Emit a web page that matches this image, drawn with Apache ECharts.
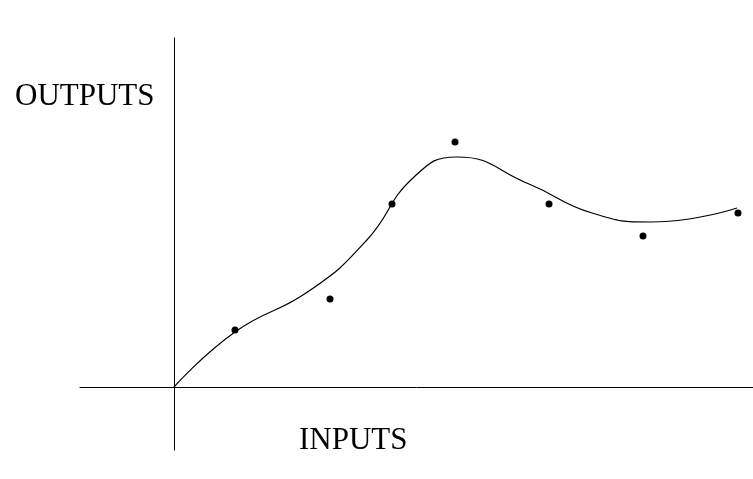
<!DOCTYPE html>
<html>
<head>
<meta charset="utf-8">
<script src="https://cdn.jsdelivr.net/npm/echarts@6/dist/echarts.min.js"></script>
<style>
  html, body { margin: 0; padding: 0; background: #fff; }
  #chart { width: 753px; height: 479px; }
</style>
</head>
<body>
<div id="chart"></div>
<script>
// measured points (x = input, y = output)
const pointX = [61, 156, 218, 281, 375, 469, 564];
const pointY = [57, 88, 183, 245, 183, 151, 174];

// fitted curve
const curveX = [0, 61, 135, 192, 240, 283, 355, 418, 478, 563];
const curveY = [0, 55, 96, 146, 210, 230, 203, 174, 165, 179];

const xLabel = 'INPUTS';
const yLabel = 'OUTPUTS';

const chart = echarts.init(document.getElementById('chart'));

const options = {
  animation: false,
  grid: { left: 80, right: 0, top: 38, bottom: 29 },
  xAxis: {
    type: 'value',
    min: -94,
    max: 579,
    axisLine: { onZero: true, lineStyle: { color: '#000', width: 1 } },
    axisTick: { show: false },
    axisLabel: { show: false },
    splitLine: { show: false },
  },
  yAxis: {
    type: 'value',
    min: -63,
    max: 349,
    axisLine: { onZero: true, lineStyle: { color: '#000', width: 1 } },
    axisTick: { show: false },
    axisLabel: { show: false },
    splitLine: { show: false },
  },
  graphic: [
    {
      type: 'text',
      x: 15,
      y: 97,
      style: { text: yLabel, font: '31px "Liberation Serif"', fill: '#000', verticalAlign: 'middle' },
    },
    {
      type: 'text',
      x: 299,
      y: 441,
      style: { text: xLabel, font: '31px "Liberation Serif"', fill: '#000', verticalAlign: 'middle' },
    },
  ],
  series: [
    {
      type: 'line',
      data: curveX.map((x, i) => [x, curveY[i]]),
      smooth: 0.5,
      showSymbol: false,
      lineStyle: { color: '#000', width: 1.2 },
    },
    {
      type: 'scatter',
      data: pointX.map((x, i) => [x, pointY[i]]),
      symbolSize: 7,
      itemStyle: { color: '#000', opacity: 1 },
    },
  ],
};

chart.setOption(options);
</script>
</body>
</html>
